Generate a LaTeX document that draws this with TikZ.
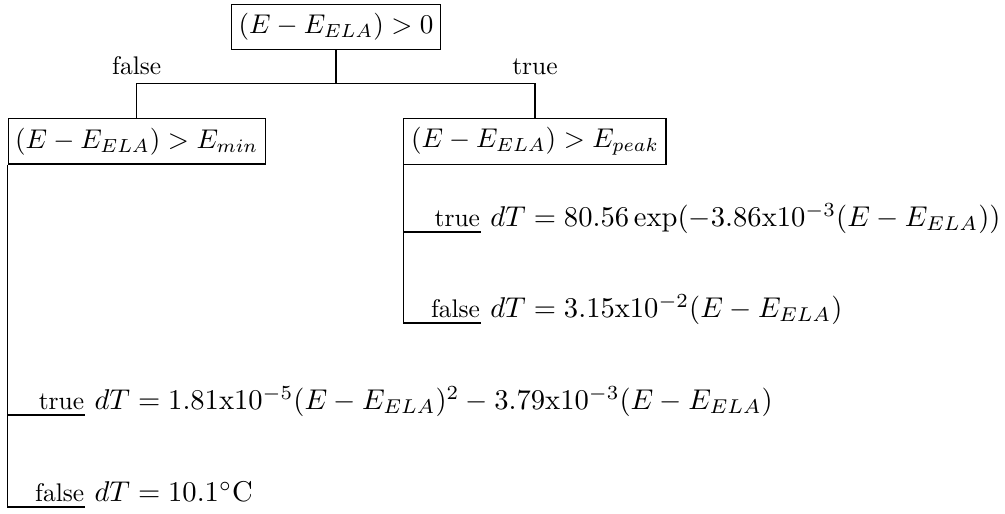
\documentclass[tikz,border=0pt]{standalone}
\usepackage{amsmath}
\usepackage{tikz}
\usetikzlibrary{positioning, calc}
\tikzset{
  testbox/.style={rectangle, draw, inner xsep=2.6pt, inner ysep=3.33pt},
  leaflabel/.style={anchor=base east, inner sep=0pt, scale=0.94},
  leafeq/.style={anchor=base west, inner sep=0pt, scale=1.055},
  splitlabel/.style={above, scale=0.94},
  branch/.style={line width=0.4pt}
}

\begin{document}
\begin{tikzpicture}
  \useasboundingbox (0,0) rectangle (13.034,-6.666);
  % tests
  \node[testbox] (root) at (4.358,-0.348) {$(E - E_{ELA}) > 0$};
  \coordinate (bar) at (4.358,-1.080);
  \node[testbox, anchor=north] (low) at (1.773,-1.534) {$(E - E_{ELA}) > E_{min}$};
  \node[testbox, anchor=north] (high) at (6.938,-1.525) {$(E - E_{ELA}) > E_{peak}$};
  \draw[branch] (root.south) -- (bar);
  \draw[branch] (low.north) |- (bar) -| (high.north);
  \node[splitlabel] (lowlbl) at (low.north |- bar) {false};
  \node[splitlabel] (highlbl) at (high.north |- bar) {true};
  % leaf heights
  \coordinate (y1) at (0,-3.009);
  \coordinate (y2) at (0,-4.189);
  \coordinate (y3) at (0,-5.382);
  \coordinate (y4) at (0,-6.575);
  \coordinate (ht) at (high.south west |- y1);
  \coordinate (hf) at (high.south west |- y2);
  \coordinate (lt) at (low.south west |- y3);
  \coordinate (lf) at (low.south west |- y4);
  \coordinate (hte) at ($(ht)+(1,0)$);
  \coordinate (hfe) at ($(hf)+(1,0)$);
  \coordinate (lte) at ($(lt)+(1,0)$);
  \coordinate (lfe) at ($(lf)+(1,0)$);
  \draw[branch] (high.south west) -- (hf) -- (hfe);
  \draw[branch] (ht) -- (hte);
  \draw[branch] (low.south west) -- (lf) -- (lfe);
  \draw[branch] (lt) -- (lte);
  % leaves
  \node[leaflabel] (htl) at ($(hte)+(0,0.07)$) {true};
  \node[leafeq] (hteq) at ($(hte)+(0.12,0.07)$) {$dT = 80.56\exp(-3.86\mathrm{x}10^{-3}(E - E_{ELA}))$};
  \node[leaflabel] (hfl) at ($(hfe)+(0,0.07)$) {false};
  \node[leafeq] (hfeq) at ($(hfe)+(0.12,0.07)$) {$dT = 3.15\mathrm{x}10^{-2}(E - E_{ELA})$};
  \node[leaflabel] (ltl) at ($(lte)+(0,0.07)$) {true};
  \node[leafeq] (lteq) at ($(lte)+(0.12,0.07)$) {$dT = 1.81\mathrm{x}10^{-5}(E - E_{ELA})^2 - 3.79\mathrm{x}10^{-3}(E - E_{ELA})$};
  \node[leaflabel] (lfl) at ($(lfe)+(0,0.07)$) {false};
  \node[leafeq] (lfeq) at ($(lfe)+(0.12,0.07)$) {$dT = 10.1^{\circ}\mathrm{C}$};
\end{tikzpicture}
\end{document}
